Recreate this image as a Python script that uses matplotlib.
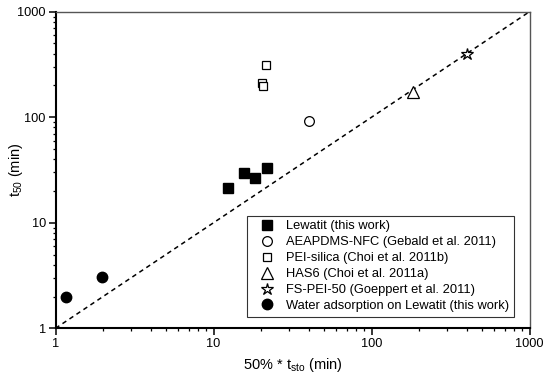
import matplotlib
matplotlib.use("Agg")
import matplotlib.pyplot as plt
from matplotlib.ticker import LogLocator, NullFormatter, FixedLocator, FixedFormatter

plt.rcParams['font.family'] = ['Liberation Sans', 'DejaVu Sans']

# Data (x = 50% * t_sto, y = t50), minutes
lewatit_x = [12.3, 15.7, 18.4, 21.7]
lewatit_y = [21.5, 29.4, 26.8, 32.9]
aeapdms_x = [40]
aeapdms_y = [93]
pei_x = [21.6, 20.2, 20.7]
pei_y = [312, 212, 199]
has6_x = [184]
has6_y = [172]
fspei_x = [400]
fspei_y = [397]
water_x = [1.16, 1.97]
water_y = [2.0, 3.03]
parity = [1, 1000]

labels = ["Lewatit (this work)",
          "AEAPDMS-NFC (Gebald et al. 2011)",
          "PEI-silica (Choi et al. 2011b)",
          "HAS6 (Choi et al. 2011a)",
          "FS-PEI-50 (Goeppert et al. 2011)",
          "Water adsorption on Lewatit (this work)"]

fig = plt.figure(figsize=(5.5, 3.79), dpi=100)
ax = fig.add_axes([55.5/550, 1 - 328.3/379, (529.5 - 55.5)/550, (328.3 - 11.7)/379])

ax.plot(parity, parity, color='black', ls=(0, (3, 2.5)), lw=1.1, zorder=1)

h1, = ax.plot(lewatit_x, lewatit_y, 's', ms=6.5, mfc='black', mec='black', ls='none', label=labels[0])
h2, = ax.plot(aeapdms_x, aeapdms_y, 'o', ms=7, mfc='white', mec='black', mew=0.9, ls='none', label=labels[1])
h3, = ax.plot(pei_x, pei_y, 's', ms=6, mfc='white', mec='black', mew=0.9, ls='none', label=labels[2])
h4, = ax.plot(has6_x, has6_y, '^', ms=8, mfc='white', mec='black', mew=0.9, ls='none', label=labels[3])
h5, = ax.plot(fspei_x, fspei_y, '*', ms=9, mfc='white', mec='black', mew=0.9, ls='none', label=labels[4])
h6, = ax.plot(water_x, water_y, 'o', ms=7.5, mfc='black', mec='black', ls='none', label=labels[5])

ax.set_xscale('log')
ax.set_yscale('log')
ax.set_xlim(1, 1000)
ax.set_ylim(1, 1000)

for a in (ax.xaxis, ax.yaxis):
    a.set_major_locator(FixedLocator([1, 10, 100, 1000]))
    a.set_major_formatter(FixedFormatter(['1', '10', '100', '1000']))
    a.set_minor_locator(LogLocator(base=10, subs=range(2, 10)))
    a.set_minor_formatter(NullFormatter())

ax.tick_params(which='major', direction='out', length=5, width=1.1, labelsize=9.2, pad=2, colors='black')
ax.tick_params(which='minor', direction='out', length=2.5, width=0.9)
ax.tick_params(top=False, right=False)

for s in ('left', 'bottom'):
    ax.spines[s].set_linewidth(1.5)
    ax.spines[s].set_color('black')
for s in ('top', 'right'):
    ax.spines[s].set_linewidth(1.0)
    ax.spines[s].set_color('#555555')

ax.set_xlabel(r'50% * t$_{\mathregular{sto}}$ (min)', fontsize=10.5, labelpad=4)
ax.set_ylabel(r't$_{\mathregular{50}}$ (min)', fontsize=10.5)
ax.yaxis.set_label_coords(-0.064, 0.5)

leg = ax.legend(handles=[h1, h2, h3, h4, h5, h6], loc='lower right',
                bbox_to_anchor=(513.5/550, 1 - 316.5/379), bbox_transform=fig.transFigure,
                fontsize=9.3, frameon=True, fancybox=False, edgecolor='black',
                borderpad=0.35, labelspacing=0.3, handletextpad=0.25, handlelength=2.4,
                borderaxespad=0, numpoints=1)
leg.get_frame().set_linewidth(0.8)

fig.savefig('out.png', dpi=100)
